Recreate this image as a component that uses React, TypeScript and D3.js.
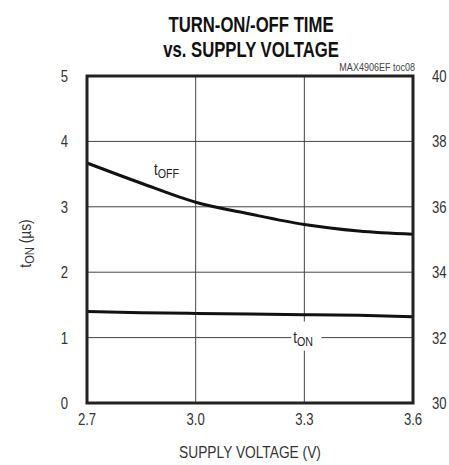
import { useEffect } from "react";
import * as d3 from "d3";

// supply voltage (V) sample points
const voltage = [2.7, 2.85, 3.0, 3.15, 3.3, 3.45, 3.6];
// tON (µs), left axis
const tOn = [1.4, 1.38, 1.37, 1.36, 1.35, 1.34, 1.32];
// tOFF (µs), right axis
const tOff = [37.34, 36.72, 36.14, 35.78, 35.46, 35.26, 35.16];

const xTicks = [2.7, 3.0, 3.3, 3.6];
const leftTicks = [0, 1, 2, 3, 4, 5];
const rightTicks = [30, 32, 34, 36, 38, 40];

const W = 449;
const H = 465;
const M = { top: 76, right: 36, bottom: 62, left: 87 };
const FONT = "'Liberation Sans', Arial, sans-serif";

// narrow text: the installed sans is squeezed horizontally to look condensed
function NText({ x, y, sx = 0.82, rotate = 0, anchor = "start", size = 16, weight = "normal", fill = "#333", children }: any) {
  return (
    <g transform={`translate(${x},${y}) rotate(${rotate}) scale(${sx},1)`}>
      <text x={0} y={0} textAnchor={anchor} fontSize={size} fontWeight={weight} fill={fill}>
        {children}
      </text>
    </g>
  );
}

export default function App() {
  useEffect(() => {
    document.body.style.margin = "0";
  }, []);

  const x = d3.scaleLinear().domain([2.7, 3.6]).range([M.left, W - M.right]);
  const yL = d3.scaleLinear().domain([0, 5]).range([H - M.bottom, M.top]);
  const yR = d3.scaleLinear().domain([30, 40]).range([H - M.bottom, M.top]);

  const lineOn = d3
    .line<number>()
    .x((_, i) => x(voltage[i]))
    .y((d) => yL(d))
    .curve(d3.curveMonotoneX);
  const lineOff = d3
    .line<number>()
    .x((_, i) => x(voltage[i]))
    .y((d) => yR(d))
    .curve(d3.curveMonotoneX);

  const [x0, x1] = x.range();
  const [y0, y1] = yL.range();
  const cy = (y0 + y1) / 2;
  const onLabelX = x(3.3);
  const onLabelY = yL(1);

  return (
    <svg width={W} height={H} style={{ display: "block", background: "#fff" }} fontFamily={FONT}>
      {/* title */}
      <NText x={251} y={32} sx={0.76} anchor="middle" size={22} weight="bold" fill="#111">
        TURN-ON/-OFF TIME
      </NText>
      <NText x={251} y={57} sx={0.76} anchor="middle" size={22} weight="bold" fill="#111">
        vs. SUPPLY VOLTAGE
      </NText>
      <NText x={x1 + 2} y={71} anchor="end" size={11} fill="#444">
        MAX4906EF toc08
      </NText>

      {/* grid */}
      {leftTicks.slice(1, -1).map((t) => (
        <line key={"h" + t} x1={x0} x2={x1} y1={yL(t)} y2={yL(t)} stroke="#444" strokeWidth={1} />
      ))}
      {xTicks.slice(1, -1).map((t) => (
        <line key={"v" + t} x1={x(t)} x2={x(t)} y1={y1} y2={y0} stroke="#444" strokeWidth={1} />
      ))}

      {/* curves */}
      <path d={lineOff(tOff) ?? ""} fill="none" stroke="#111" strokeWidth={3} />
      <path d={lineOn(tOn) ?? ""} fill="none" stroke="#111" strokeWidth={3} />

      {/* curve labels */}
      <NText x={154} y={175} size={16} fill="#222">
        t<tspan fontSize={13} dy={3}>OFF</tspan>
      </NText>
      <rect x={onLabelX - 13} y={onLabelY - 16} width={30} height={29} fill="#fff" />
      <NText x={onLabelX - 11} y={onLabelY + 5} size={16} fill="#222">
        t<tspan fontSize={13} dy={3}>ON</tspan>
      </NText>

      {/* frame */}
      <rect x={x0} y={y1} width={x1 - x0} height={y0 - y1} fill="none" stroke="#222" strokeWidth={3} />

      {/* left ticks */}
      {leftTicks.map((t) => (
        <NText key={"l" + t} x={68} y={yL(t) + 6} anchor="end">
          {t}
        </NText>
      ))}
      {/* right ticks */}
      {rightTicks.map((t) => (
        <NText key={"r" + t} x={432} y={yR(t) + 6}>
          {t}
        </NText>
      ))}
      {/* x ticks */}
      {xTicks.map((t) => (
        <NText key={"x" + t} x={x(t)} y={425} anchor="middle">
          {t.toFixed(1)}
        </NText>
      ))}

      <NText x={250} y={458} sx={0.86} anchor="middle">
        SUPPLY VOLTAGE (V)
      </NText>
      <NText x={31} y={cy + 4} rotate={-90} sx={0.86} anchor="middle">
        t<tspan fontSize={13} dy={3}>ON</tspan>
        <tspan dy={-3}> (µs)</tspan>
      </NText>
    </svg>
  );
}
